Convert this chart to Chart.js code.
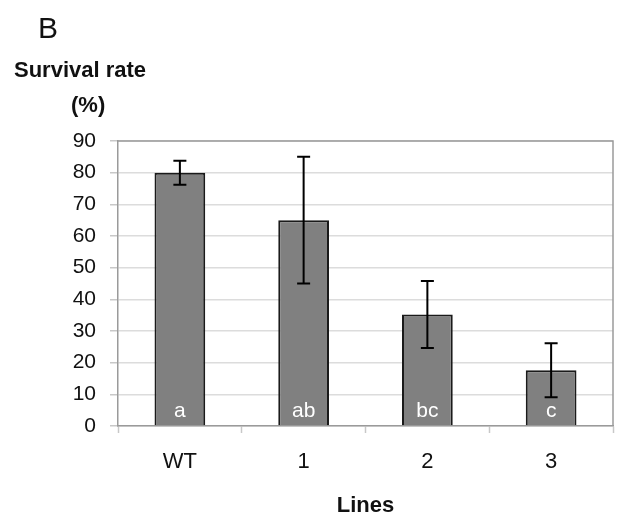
<!DOCTYPE html>
<html>
<head>
<meta charset="utf-8">
<script src="https://cdn.jsdelivr.net/npm/chart.js@4/dist/chart.umd.min.js"></script>
<style>
  html, body { margin: 0; padding: 0; background: #fff; }
  #wrap { width: 617px; height: 514px; position: relative; }
</style>
</head>
<body>
<div id="wrap"><canvas id="chart" width="617" height="514"></canvas></div>
<script>
// data
const lines = ['WT', '1', '2', '3'];
const survival = [80, 65, 35.2, 17.6];
const errors = [3.8, 20, 10.6, 8.5];
const groups = ['a', 'ab', 'bc', 'c'];
const yTicks = [0, 10, 20, 30, 40, 50, 60, 70, 80, 90];

const FONT = '"Liberation Sans", Arial, sans-serif';

// error bars, significance letters, frame and titles
const extras = {
    id: 'extras',
    afterDatasetsDraw(chart) {
        const { ctx, chartArea: area } = chart;
        const x = chart.scales.x, y = chart.scales.y;
        ctx.save();

        // frame top + right
        ctx.strokeStyle = '#9a9a9a';
        ctx.lineWidth = 1.5;
        ctx.beginPath();
        ctx.moveTo(area.left, area.top);
        ctx.lineTo(area.right, area.top);
        ctx.lineTo(area.right, area.bottom);
        ctx.stroke();

        // error bars
        ctx.strokeStyle = '#000';
        ctx.lineWidth = 2;
        survival.forEach((v, i) => {
            const cx = x.getPixelForValue(i);
            const yt = y.getPixelForValue(v + errors[i]);
            const yb = y.getPixelForValue(v - errors[i]);
            ctx.beginPath();
            ctx.moveTo(cx, yt); ctx.lineTo(cx, yb);
            ctx.moveTo(cx - 6.5, yt); ctx.lineTo(cx + 6.5, yt);
            ctx.moveTo(cx - 6.5, yb); ctx.lineTo(cx + 6.5, yb);
            ctx.stroke();
        });

        // letters in bars
        ctx.fillStyle = '#fff';
        ctx.font = '21px ' + FONT;
        ctx.textAlign = 'center';
        ctx.textBaseline = 'middle';
        groups.forEach((g, i) => {
            ctx.fillText(g, x.getPixelForValue(i), y.getPixelForValue(0) - 15);
        });

        // titles
        ctx.fillStyle = '#111';
        ctx.textAlign = 'left';
        ctx.textBaseline = 'alphabetic';
        ctx.font = '30px ' + FONT;
        ctx.fillText('B', 38, 38);
        ctx.font = 'bold 22px ' + FONT;
        ctx.fillText('Survival rate', 14, 77);
        ctx.fillText('(%)', 71, 112);
        ctx.textAlign = 'center';
        ctx.font = 'bold 22px ' + FONT;
        ctx.fillText('Lines', (area.left + area.right) / 2, 512);
        ctx.restore();
    }
};

new Chart(document.getElementById('chart'), {
    type: 'bar',
    data: {
        labels: lines,
        datasets: [{
            data: survival,
            backgroundColor: '#808080',
            borderColor: '#1a1a1a',
            borderWidth: 2,
            categoryPercentage: 1,
            barPercentage: 0.41
        }]
    },
    options: {
        responsive: false,
        animation: false,
        events: [],
        layout: { padding: { top: 141, right: 4, left: 0, bottom: 0 } },
        plugins: { legend: { display: false }, tooltip: { enabled: false } },
        scales: {
            x: {
                grid: { drawOnChartArea: false, tickLength: 7, tickColor: '#c8c8c8', tickWidth: 1.5 },
                border: { color: '#9a9a9a', width: 1.5 },
                ticks: { color: '#111', font: { family: FONT, size: 22 }, padding: 16 },
                afterFit: s => { s.height = 88; }
            },
            y: {
                min: 0, max: 90,
                afterBuildTicks: s => { s.ticks = yTicks.map(v => ({ value: v })); },
                grid: { color: '#dcdcdc', lineWidth: 1.5, tickLength: 8, tickColor: '#c8c8c8' },
                border: { color: '#9a9a9a', width: 1.5 },
                ticks: { color: '#111', font: { family: FONT, size: 21 }, padding: 14 },
                afterFit: s => { s.width = 118; }
            }
        }
    },
    plugins: [extras]
});
</script>
</body>
</html>
